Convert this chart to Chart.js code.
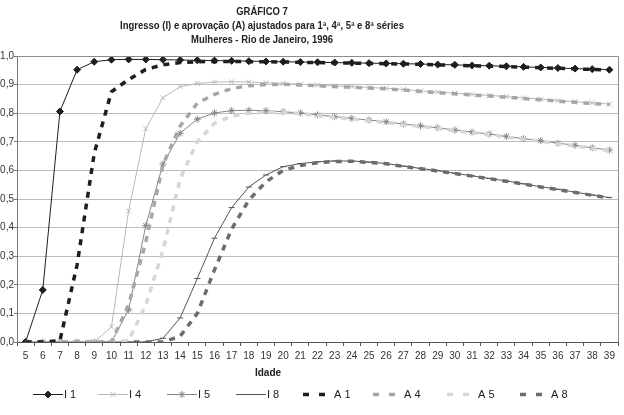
<!DOCTYPE html>
<html>
<head>
<meta charset="utf-8">
<script src="https://cdn.jsdelivr.net/npm/chart.js@4.4.1/dist/chart.umd.min.js"></script>
<style>
  html, body { margin: 0; padding: 0; background: #fff; }
  #wrap { width: 624px; height: 415px; }
</style>
</head>
<body>
<div id="wrap"><canvas id="chart" width="624" height="415"></canvas></div>
<script>
const ages = ['5', '6', '7', '8', '9', '10', '11', '12', '13', '14', '15', '16', '17', '18', '19', '20', '21', '22',
  '23', '24', '25', '26', '27', '28', '29', '30', '31', '32', '33', '34', '35', '36', '37', '38', '39'];

const i1 = [0, 0.182, 0.806, 0.952, 0.98, 0.987, 0.988, 0.988, 0.987, 0.986, 0.985, 0.984, 0.983, 0.982, 0.981,
  0.98, 0.979, 0.978, 0.977, 0.976, 0.975, 0.974, 0.973, 0.972, 0.97, 0.969, 0.967, 0.966, 0.964, 0.962, 0.96,
  0.958, 0.956, 0.954, 0.952];
const i4 = [0, 0, 0, 0, 0, 0.053, 0.458, 0.746, 0.854, 0.893, 0.904, 0.909, 0.91, 0.909, 0.907, 0.904, 0.901,
  0.898, 0.895, 0.893, 0.89, 0.887, 0.883, 0.878, 0.874, 0.87, 0.866, 0.862, 0.858, 0.853, 0.849, 0.844, 0.84,
  0.836, 0.832];
const i5 = [0, 0, 0, 0, 0, 0, 0.113, 0.407, 0.622, 0.73, 0.779, 0.801, 0.809, 0.81, 0.809, 0.805, 0.801, 0.794,
  0.788, 0.782, 0.776, 0.77, 0.762, 0.756, 0.749, 0.741, 0.734, 0.727, 0.719, 0.711, 0.704, 0.695, 0.688, 0.679,
  0.671];
const i8 = [0, 0, 0, 0, 0, 0, 0, 0, 0.013, 0.084, 0.222, 0.363, 0.47, 0.542, 0.584, 0.613, 0.624, 0.63, 0.633,
  0.633, 0.629, 0.624, 0.615, 0.607, 0.599, 0.59, 0.581, 0.572, 0.563, 0.553, 0.543, 0.534, 0.524, 0.514, 0.505];

const a1 = [0, 0, 0.005, 0.27, 0.66, 0.875, 0.918, 0.953, 0.969, 0.977, 0.98, 0.981, 0.981, 0.98, 0.98, 0.979,
  0.978, 0.977, 0.976, 0.975, 0.974, 0.973, 0.972, 0.971, 0.969, 0.968, 0.966, 0.965, 0.963, 0.961, 0.959, 0.957,
  0.955, 0.953, 0.951];
const a4 = [0, 0, 0, 0, 0, 0, 0.13, 0.35, 0.62, 0.755, 0.835, 0.866, 0.886, 0.896, 0.9, 0.901, 0.899, 0.896,
  0.893, 0.891, 0.888, 0.885, 0.881, 0.876, 0.872, 0.868, 0.864, 0.86, 0.856, 0.851, 0.847, 0.842, 0.838, 0.834,
  0.83];
const a5 = [0, 0, 0, 0, 0, 0, 0.005, 0.13, 0.32, 0.57, 0.7, 0.765, 0.79, 0.8, 0.804, 0.803, 0.799, 0.792, 0.786,
  0.78, 0.774, 0.768, 0.76, 0.754, 0.747, 0.739, 0.732, 0.725, 0.717, 0.709, 0.702, 0.693, 0.686, 0.677, 0.669];
const a8 = [0, 0, 0, 0, 0, 0, 0, 0, 0, 0.02, 0.1, 0.252, 0.395, 0.496, 0.56, 0.6, 0.617, 0.627, 0.631, 0.632,
  0.628, 0.623, 0.614, 0.606, 0.598, 0.589, 0.58, 0.571, 0.562, 0.552, 0.542, 0.533, 0.523, 0.513, 0.504];

const titleLines = ['GRÁFICO 7', 'Ingresso (I) e aprovação (A) ajustados para 1ª, 4ª, 5ª e 8ª séries',
  'Mulheres - Rio de Janeiro, 1996'];
const yTicks = [0, 0.1, 0.2, 0.3, 0.4, 0.5, 0.6, 0.7, 0.8, 0.9, 1.0];

const sans = "'Liberation Sans', Arial, sans-serif";

// where each legend entry starts along the bottom row
const legendX = [33, 98, 167, 236, 303, 373, 447, 520];

const solid = (label, data, color, style, radius) => ({
  label,
  data,
  borderColor: color,
  backgroundColor: color,
  borderWidth: 1,
  pointStyle: style,
  pointRadius: radius,
  pointBackgroundColor: color,
  pointBorderColor: color,
  pointBorderWidth: 1,
  tension: 0,
  order: 1,
});

const dashed = (label, data, color) => ({
  label,
  data,
  borderColor: color,
  backgroundColor: color,
  borderWidth: 3.5,
  borderDash: [6, 6],
  borderCapStyle: 'butt',
  pointRadius: 0,
  tension: 0,
  order: 0,
});

const datasets = [
  solid('I 1', i1, '#1e1e1e', 'rectRot', 3.5),
  solid('I 4', i4, '#b8b8b8', 'crossRot', 3.5),
  solid('I 5', i5, '#858585', 'star', 3.5),
  solid('I 8', i8, '#555555', 'line', 3),
  dashed('A 1', a1, '#1e1e1e'),
  dashed('A 4', a4, '#a6a6a6'),
  dashed('A 5', a5, '#d6d6d6'),
  dashed('A 8', a8, '#6c6c6c'),
];

const drawLegend = (ctx) => {
  const y = 394.5;
  ctx.textAlign = 'left';
  ctx.textBaseline = 'middle';
  ctx.font = '11px ' + sans;
  datasets.forEach((ds, i) => {
    const x = legendX[i];
    ctx.save();
    ctx.strokeStyle = ds.borderColor;
    if (ds.borderDash) {
      ctx.lineWidth = 3.5;
      ctx.beginPath();
      ctx.moveTo(x, y);
      ctx.lineTo(x + 6, y);
      ctx.moveTo(x + 16, y);
      ctx.lineTo(x + 22, y);
      ctx.stroke();
    } else {
      ctx.lineWidth = 1;
      ctx.beginPath();
      ctx.moveTo(x, y);
      ctx.lineTo(x + 30, y);
      ctx.stroke();
      ctx.fillStyle = ds.pointBackgroundColor;
      Chart.helpers.drawPoint(ctx, {
        pointStyle: ds.pointStyle,
        radius: ds.pointRadius,
        rotation: 0,
        borderWidth: 1,
      }, x + 15, y);
    }
    ctx.restore();
    ctx.fillStyle = '#222';
    ctx.fillText(ds.label, x + (ds.borderDash ? 31 : 31), y);
  });
};

const decorations = {
  id: 'decorations',
  afterDatasetsDraw(chart) {
    const { ctx, chartArea } = chart;
    ctx.save();
    ctx.strokeStyle = '#8c8c8c';
    ctx.lineWidth = 1;
    ctx.beginPath();
    ctx.moveTo(chartArea.left, Math.round(chartArea.top) + 0.5);
    ctx.lineTo(Math.round(chartArea.right) + 0.5, Math.round(chartArea.top) + 0.5);
    ctx.lineTo(Math.round(chartArea.right) + 0.5, chartArea.bottom);
    ctx.stroke();
    ctx.restore();
  },
  afterDraw(chart) {
    const { ctx } = chart;
    ctx.save();
    ctx.fillStyle = '#222';
    ctx.textAlign = 'center';
    ctx.textBaseline = 'middle';
    ctx.font = 'bold 10px ' + sans;
    titleLines.forEach((line, i) => {
      ctx.save();
      ctx.translate(262, 12 + i * 14);
      ctx.scale(0.95, 1);
      ctx.fillText(line, 0, 0);
      ctx.restore();
    });
    ctx.fillText('Idade', 268, 373);
    drawLegend(ctx);
    ctx.restore();
  },
};

new Chart(document.getElementById('chart'), {
  type: 'line',
  data: { labels: ages, datasets },
  plugins: [decorations],
  options: {
    responsive: false,
    animation: false,
    layout: { padding: { top: 56, right: 6, bottom: 53, left: 0 } },
    plugins: {
      title: { display: false },
      tooltip: { enabled: false },
      legend: { display: false },
    },
    scales: {
      x: {
        offset: true,
        afterFit: (scale) => { scale.height = 20; },
        grid: {
          offset: true,
          drawOnChartArea: false,
          tickLength: 4,
          tickColor: '#555',
        },
        border: { color: '#555', width: 1 },
        ticks: {
          autoSkip: false,
          maxRotation: 0,
          padding: 4,
          color: '#333',
          font: { family: sans, size: 10 },
        },
      },
      y: {
        min: 0,
        max: 1,
        afterFit: (scale) => { scale.width = 17; },
        afterBuildTicks: (scale) => { scale.ticks = yTicks.map((v) => ({ value: v })); },
        grid: {
          color: '#bdbdbd',
          borderDash: [1, 2],
          tickLength: 3,
          tickColor: '#777',
          tickBorderDash: [],
        },
        border: { color: '#777', width: 1 },
        ticks: {
          padding: 0,
          color: '#333',
          font: { family: sans, size: 10 },
          callback: (v) => Number(v).toFixed(1).replace('.', ','),
        },
      },
    },
  },
});
</script>
</body>
</html>
